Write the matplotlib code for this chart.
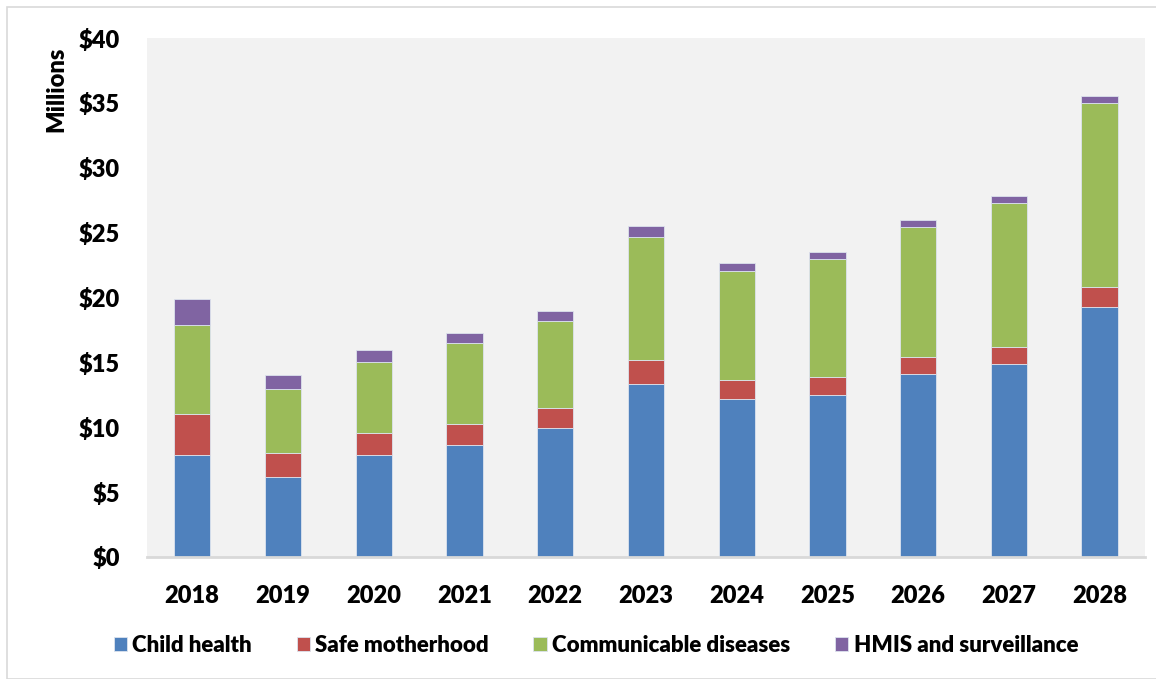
import numpy as np
import matplotlib.pyplot as plt
from matplotlib.patches import Rectangle
from matplotlib.ticker import FuncFormatter

plt.rcParams['font.family'] = ['Lato', 'DejaVu Sans']
plt.rcParams['font.weight'] = 'heavy'

years = ['2018', '2019', '2020', '2021', '2022', '2023',
         '2024', '2025', '2026', '2027', '2028']

# spending by programme area, $ millions
child_health = [7.86, 6.14, 7.84, 8.61, 9.92, 13.31, 12.18, 12.49, 14.08, 14.90, 19.27]
safe_motherhood = [3.14, 1.85, 1.74, 1.66, 1.59, 1.90, 1.46, 1.41, 1.36, 1.31, 1.56]
communicable = [6.88, 4.96, 5.45, 6.20, 6.70, 9.45, 8.40, 9.04, 9.99, 11.07, 14.16]
hmis = [1.98, 1.08, 0.90, 0.82, 0.75, 0.87, 0.62, 0.57, 0.52, 0.52, 0.54]

series = [
    ('Child health', child_health, '#4F81BD'),
    ('Safe motherhood', safe_motherhood, '#C0504D'),
    ('Communicable diseases', communicable, '#9BBB59'),
    ('HMIS and surveillance', hmis, '#8064A2'),
]

fig = plt.figure(figsize=(11.56, 6.79), dpi=100)
ax = fig.add_axes([0.127, 0.1797, 0.8635, 0.7643])
ax.set_facecolor('#F2F2F2')

# light frame round the whole chart
fig.patches.append(Rectangle((7 / 1156, 0), 1.0, 1 - 7 / 679, transform=fig.transFigure,
                             fill=False, edgecolor='#D9D9D9', linewidth=1.2, zorder=0))

x = np.arange(len(years))
bottom = np.zeros(len(years))
for name, vals, color in series:
    ax.bar(x, vals, width=0.4, bottom=bottom, color=color, label=name,
           edgecolor='#DCE3EE', linewidth=0.6)
    bottom += np.array(vals)

ax.set_xlim(-0.5, len(years) - 0.5)
ax.set_ylim(0, 40)
ax.set_yticks(range(0, 41, 5))
ax.yaxis.set_major_formatter(FuncFormatter(lambda v, p: f'${v:.0f}'))
ax.set_xticks(x)
ax.set_xticklabels(years)
ax.tick_params(axis='both', length=0, labelsize=17)
ax.tick_params(axis='y', pad=19.5)
ax.tick_params(axis='x', pad=20)
for lbl in ax.get_yticklabels():
    lbl.set_horizontalalignment('right')

for side in ['top', 'right', 'left']:
    ax.spines[side].set_visible(False)
ax.spines['bottom'].set_color('#D9D9D9')
ax.spines['bottom'].set_linewidth(2)

ax.text(-0.091, 0.983, 'Millions', transform=ax.transAxes, rotation=90,
        ha='center', va='top', fontsize=17)

ax.legend(loc='center', bbox_to_anchor=(0.45, -0.171), ncol=4, frameon=False,
          fontsize=16, handlelength=0.6, handleheight=0.6, handletextpad=0.25,
          columnspacing=2.0)

fig.savefig('out.png', dpi=100)
